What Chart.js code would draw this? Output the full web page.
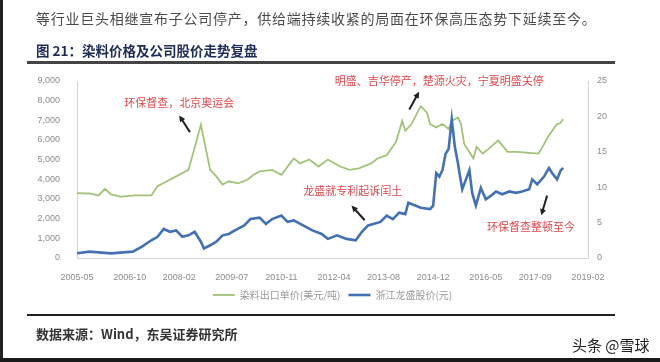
<!DOCTYPE html>
<html>
<head>
<meta charset="utf-8">
<script src="https://cdn.jsdelivr.net/npm/chart.js@4.4.1/dist/chart.umd.min.js"></script>
<style>
    body { margin: 0; width: 660px; height: 362px; overflow: hidden; background: #fff; position: relative; font-family: "Noto Sans CJK SC", sans-serif; }
    #chartBox { position: absolute; left: 0; top: 0; width: 660px; height: 362px; }
    .txt { position: absolute; white-space: nowrap; }
    #intro { left: 36px; top: 8px; font-size: 14px; letter-spacing: 0.75px; color: #4a4a4a; }
    #title { left: 36px; top: 40px; font-size: 13.5px; font-weight: bold; color: #1e2c58; }
    #source { left: 36px; top: 324px; font-size: 13px; font-weight: bold; color: #333; }
    #mark { left: 572px; top: 334px; font-size: 15px; color: #222; }
    .rule { position: absolute; left: 27px; width: 588px; background: #444; }
    #frameLeft { position: absolute; left: 0; top: 0; width: 3px; height: 362px; background: #222; }
    #frameBottom { position: absolute; left: 0; top: 358px; width: 660px; height: 4px; background: #1a1a1a; }
</style>
</head>
<body>
<div id="chartBox"><canvas id="dyeChart"></canvas></div>
<div class="txt" id="intro">等行业巨头相继宣布子公司停产，供给端持续收紧的局面在环保高压态势下延续至今。</div>
<div class="txt" id="title">图 21：染料价格及公司股价走势复盘</div>
<div class="rule" style="top:61px;height:3px"></div>
<div class="rule" style="top:314px;height:2px;background:#222"></div>
<div class="txt" id="source">数据来源：Wind，东吴证券研究所</div>
<div class="txt" id="mark">头条 @雪球</div>
<div id="frameLeft"></div>
<div id="frameBottom"></div>
<script>
// x axis tick labels (year-month)
const tickLabels = ['2005-05', '2006-10', '2008-02', '2009-07', '2010-11', '2012-04',
    '2013-08', '2014-12', '2016-05', '2017-09', '2019-02'];

// dye export unit price, USD/ton (left axis)
const priceDates = ['2005-05', '2005-09', '2005-12', '2006-02', '2006-04', '2006-07', '2006-12',
    '2007-05', '2007-07', '2007-10', '2008-01', '2008-04', '2008-05', '2008-09', '2008-12',
    '2009-02', '2009-04', '2009-06', '2009-09', '2009-12', '2010-02', '2010-04', '2010-08',
    '2010-11', '2011-03', '2011-05', '2011-08', '2011-11', '2012-02', '2012-06', '2012-09',
    '2012-12', '2013-04', '2013-06', '2013-09', '2013-12', '2014-02', '2014-03', '2014-05',
    '2014-08', '2014-10', '2014-11', '2015-01', '2015-03', '2015-05', '2015-06', '2015-08',
    '2015-09', '2015-10', '2015-12', '2016-01', '2016-02', '2016-04', '2016-06', '2016-09',
    '2016-12', '2017-03', '2017-07', '2017-10', '2017-11', '2018-01', '2018-04', '2018-05',
    '2018-06'];
const priceValues = [3300, 3280, 3180, 3520, 3230, 3120, 3180,
    3180, 3650, 3900, 4150, 4400, 4480, 6770, 4480,
    4150, 3730, 3900, 3800, 3980, 4230, 4400, 4480,
    4230, 5060, 4810, 5010, 4650, 5010, 4650, 4480,
    4560, 4810, 5060, 5230, 5900, 6970, 6470, 6810,
    7720, 7390, 6810, 6640, 6810, 6560, 6970, 7140,
    6810, 5810, 5310, 5060, 5650, 5310, 5560, 5980,
    5400, 5400, 5350, 5310, 5560, 6140, 6810, 6850,
    7060];

// Zhejiang Longsheng share price, CNY (right axis)
const stockDates = ['2005-05-01', '2005-09-01', '2006-04-01', '2006-11-01', '2007-02-01', '2007-05-01',
    '2007-07-01', '2007-09-01', '2007-11-01', '2008-01-01', '2008-03-01', '2008-05-01', '2008-07-01',
    '2008-09-01', '2008-10-01', '2008-12-01', '2009-02-01', '2009-04-01', '2009-06-01', '2009-08-01',
    '2009-11-01', '2010-01-01', '2010-04-01', '2010-06-01', '2010-08-01', '2010-11-01', '2011-01-01',
    '2011-03-01', '2011-06-01', '2011-09-01', '2011-12-01', '2012-02-01', '2012-05-01', '2012-08-01',
    '2012-11-01', '2013-01-01', '2013-03-01', '2013-07-01', '2013-09-01', '2013-11-01', '2014-01-01',
    '2014-03-01', '2014-04-01', '2014-08-01', '2014-11-01', '2014-12-01', '2015-01-01', '2015-02-01',
    '2015-03-01', '2015-04-01', '2015-05-01', '2015-06-01', '2015-07-01', '2015-08-01', '2015-08-16',
    '2015-09-13', '2015-10-19', '2015-11-22', '2015-12-19', '2016-01-25', '2016-03-13', '2016-05-01',
    '2016-06-22', '2016-08-10', '2016-10-10', '2016-12-19', '2017-02-22', '2017-04-22', '2017-07-01',
    '2017-08-01', '2017-09-19', '2017-11-25', '2018-01-13', '2018-02-13', '2018-04-01', '2018-05-07',
    '2018-06-01'];
const stockValues = [0.66, 0.9, 0.66, 0.9, 1.6, 2.5,
    3.0, 4.1, 3.7, 3.9, 3.0, 3.2, 3.7,
    2.3, 1.35, 1.8, 2.3, 3.2, 3.4, 3.9,
    4.6, 5.5, 5.7, 4.8, 5.5, 6.0, 5.1,
    5.3, 4.6, 3.9, 3.4, 2.7, 3.2, 2.7,
    2.5, 3.7, 4.6, 5.1, 6.0, 5.5, 6.4,
    6.2, 7.8, 7.1, 6.9, 7.4, 12.0, 11.5,
    12.4, 14.7, 15.4, 19.6, 15.7, 13.4, 12.0,
    9.7, 11.1, 12.4, 9.2, 7.4, 9.9, 8.3,
    8.8, 9.4, 9.0, 9.4, 9.2, 9.4, 9.7,
    11.1, 10.4, 11.5, 12.7, 12.0, 11.1, 12.4,
    12.7];

// event notes (left-axis value), with arrow tail -> head
const notes = [
    { text: '环保督查，北京奥运会', at: ['2008-02', 7900], from: ['2008-05-15', 6400], to: ['2008-02', 7250] },
    { text: '明盛、吉华停产，楚源火灾，宁夏明盛关停', at: ['2015-02', 9000], from: ['2014-04-10', 7550], to: ['2014-07-15', 8450] },
    { text: '龙盛就专利起诉闰土', at: ['2012-10', 3400], from: ['2013-01-28', 1920], to: ['2012-09-20', 2670] },
    { text: '环保督查整顿至今', at: ['2017-07-18', 1570], from: ['2017-12-25', 3170], to: ['2017-10-28', 2170] }
];

// months since 2005-05, from 'YYYY-MM' or 'YYYY-MM-DD'
function toMonth(s) {
    const p = s.split('-').map(Number);
    return (p[0] - 2005) * 12 + (p[1] - 5) + (p[2] ? (p[2] - 1) / 30 : 0);
}

const notePlugin = {
    id: 'notes',
    afterDatasetsDraw(chart) {
        const ctx = chart.ctx;
        const xs = chart.scales.x, ys = chart.scales.y;
        const px = p => [xs.getPixelForValue(toMonth(p[0])), ys.getPixelForValue(p[1])];
        ctx.save();
        notes.forEach(n => {
            const [tx, ty] = px(n.at);
            ctx.font = '11px "Noto Sans CJK SC"';
            ctx.fillStyle = '#e2464c';
            ctx.textAlign = 'center';
            ctx.textBaseline = 'middle';
            ctx.fillText(n.text, tx, ty);

            const [x1, y1] = px(n.from);
            const [x2, y2] = px(n.to);
            const ang = Math.atan2(y2 - y1, x2 - x1);
            ctx.strokeStyle = '#222';
            ctx.fillStyle = '#222';
            ctx.lineWidth = 2;
            ctx.beginPath();
            ctx.moveTo(x1, y1);
            ctx.lineTo(x2 - 4 * Math.cos(ang), y2 - 4 * Math.sin(ang));
            ctx.stroke();
            ctx.beginPath();
            ctx.moveTo(x2, y2);
            ctx.lineTo(x2 - 7 * Math.cos(ang - 0.45), y2 - 7 * Math.sin(ang - 0.45));
            ctx.lineTo(x2 - 7 * Math.cos(ang + 0.45), y2 - 7 * Math.sin(ang + 0.45));
            ctx.closePath();
            ctx.fill();
        });
        ctx.restore();
    }
};

const tickFont = { family: 'Liberation Sans', size: 9 };
const tickColor = '#8c8c8c';
const axisBorder = { display: true, color: '#d4d4d4', width: 1 };

new Chart(document.getElementById('dyeChart'), {
    type: 'line',
    data: {
        datasets: [{
            label: '染料出口单价(美元/吨)',
            data: priceDates.map((d, i) => ({ x: toMonth(d), y: priceValues[i] })),
            yAxisID: 'y',
            borderColor: '#a3c27a',
            borderWidth: 1.8,
            order: 1
        }, {
            label: '浙江龙盛股价(元)',
            data: stockDates.map((d, i) => ({ x: toMonth(d), y: stockValues[i] })),
            yAxisID: 'y1',
            borderColor: '#4470b6',
            borderWidth: 2.6,
            order: 0
        }]
    },
    options: {
        responsive: true,
        maintainAspectRatio: false,
        animation: false,
        layout: { padding: { left: 37, right: 32, top: 81, bottom: 52 } },
        elements: { point: { radius: 0 }, line: { tension: 0 } },
        scales: {
            x: {
                type: 'linear',
                min: 0,
                max: toMonth('2019-02'),
                grid: { display: false },
                border: axisBorder,
                afterBuildTicks: scale => { scale.ticks = tickLabels.map(l => ({ value: toMonth(l) })); },
                afterFit: scale => { scale.height = 24; },
                ticks: {
                    autoSkip: false,
                    maxRotation: 0,
                    padding: 6,
                    color: tickColor,
                    font: tickFont,
                    callback: (v, i) => tickLabels[i]
                }
            },
            y: {
                position: 'left',
                min: 0,
                max: 9000,
                grid: { display: false },
                border: axisBorder,
                afterFit: scale => { scale.width = 40; },
                ticks: {
                    stepSize: 1000,
                    padding: 9,
                    color: tickColor,
                    font: tickFont,
                    callback: v => v.toLocaleString('en-US')
                }
            },
            y1: {
                position: 'right',
                min: 0,
                max: 25,
                grid: { display: false, drawTicks: true, tickLength: 3 },
                border: axisBorder,
                afterFit: scale => { scale.width = 40; },
                ticks: { stepSize: 5, padding: 6, color: tickColor, font: tickFont }
            }
        },
        plugins: {
            legend: {
                position: 'bottom',
                labels: {
                    usePointStyle: true,
                    pointStyle: 'line',
                    pointStyleWidth: 22,
                    boxHeight: 10,
                    padding: 8,
                    color: '#999',
                    font: { family: 'Noto Sans CJK SC', size: 10 },
                    sort: (a, b) => a.datasetIndex - b.datasetIndex
                }
            },
            tooltip: { enabled: false }
        }
    },
    plugins: [notePlugin]
});
</script>
</body>
</html>
